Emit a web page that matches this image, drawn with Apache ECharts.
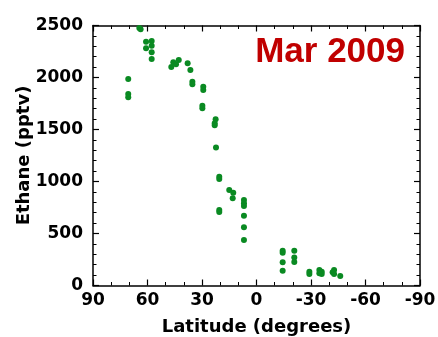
<!DOCTYPE html>
<html>
<head>
<meta charset="utf-8">
<script src="https://cdn.jsdelivr.net/npm/echarts@6/dist/echarts.min.js"></script>
<style>
  html, body { margin: 0; padding: 0; background: #fff; }
  #chart { width: 438px; height: 337px; }
</style>
</head>
<body>
<div id="chart"></div>
<script>
// latitude (deg) and ethane (pptv)
var latitude = [
  64.5, 63.8, 60.8, 57.7, 57.7, 60.8, 57.7, 57.7, 70.6, 70.6, 70.6,
  46.9, 45.8, 44.3, 42.8, 37.9, 36.4, 35.3, 35.3, 29.3, 29.3, 29.8, 29.8,
  22.5, 23.0, 23.0, 22.3, 20.5, 20.5, 15.0, 12.8, 13.1, 20.5, 20.5,
  6.9, 6.9, 6.9, 6.9, 6.9, 6.9,
  -14.4, -14.4, -14.4, -14.4, -20.8, -20.8, -20.8,
  -29.1, -29.1, -34.6, -35.9, -35.9, -34.6, -42.7, -41.9, -42.7, -46.1
];
var ethane = [
  2475, 2465, 2344, 2351, 2306, 2281, 2242, 2178, 1986, 1841, 1810,
  2101, 2146, 2127, 2168, 2136, 2072, 1960, 1935, 1912, 1880, 1729, 1704,
  1598, 1560, 1540, 1327, 1046, 1024, 918, 892, 838, 726, 707,
  822, 790, 764, 671, 560, 437,
  335, 315, 223, 142, 335, 269, 226,
  133, 111, 149, 133, 111, 117, 149, 127, 111, 91
];
var title = 'Mar 2009';

var points = latitude.map(function (lat, i) { return [lat, ethane[i]]; });

var myChart = echarts.init(document.getElementById('chart'));

var labelFont = {
  color: '#000',
  fontFamily: 'DejaVu Sans',
  fontWeight: 'bold',
  fontSize: 17,
  formatter: function (v) { return String(v); }
};

function frameAxis(extra) {
  return Object.assign({
    type: 'value',
    axisLine: { show: true, onZero: false, lineStyle: { color: '#000', width: 1.5 } },
    axisTick: { show: true, inside: true, length: 6, lineStyle: { color: '#000', width: 1.2 } },
    splitLine: { show: false },
    minorSplitLine: { show: false }
  }, extra);
}

myChart.setOption({
  backgroundColor: '#fff',
  animation: false,
  title: {
    text: title,
    right: 28,
    top: 30,
    textStyle: {
      color: '#c00000',
      fontFamily: 'Liberation Sans',
      fontWeight: 'bold',
      fontSize: 35
    }
  },
  grid: { left: 93, right: 18, top: 25.5, bottom: 51.5, containLabel: false, outerBoundsMode: 'none' },
  xAxis: [
    frameAxis({
      min: -90, max: 90, interval: 30, inverse: true,
      minorTick: { show: true, splitNumber: 3, length: 3.5, lineStyle: { color: '#000', width: 1 } },
      name: 'Latitude (degrees)',
      nameLocation: 'middle',
      nameGap: 33,
      nameMoveOverlap: false,
      nameTextStyle: { color: '#000', fontFamily: 'DejaVu Sans', fontWeight: 'bold', fontSize: 18 },
      axisLabel: Object.assign({ margin: 7 }, labelFont)
    }),
    frameAxis({
      position: 'top',
      min: -90, max: 90, interval: 30, inverse: true,
      minorTick: { show: true, splitNumber: 3, length: 3.5, lineStyle: { color: '#000', width: 1 } },
      axisLabel: { show: false }
    })
  ],
  yAxis: [
    frameAxis({
      min: 0, max: 2500, interval: 500,
      minorTick: { show: true, splitNumber: 5, length: 3.5, lineStyle: { color: '#000', width: 1 } },
      name: 'Ethane (pptv)',
      nameLocation: 'middle',
      nameGap: 60,
      nameMoveOverlap: false,
      nameTextStyle: { color: '#000', fontFamily: 'DejaVu Sans', fontWeight: 'bold', fontSize: 18 },
      axisLabel: Object.assign({ margin: 10 }, labelFont)
    }),
    frameAxis({
      position: 'right',
      min: 0, max: 2500, interval: 500,
      minorTick: { show: true, splitNumber: 5, length: 3.5, lineStyle: { color: '#000', width: 1 } },
      axisLabel: { show: false }
    })
  ],
  series: [{
    type: 'scatter',
    xAxisIndex: 0,
    yAxisIndex: 0,
    data: points,
    symbolSize: 6,
    itemStyle: { color: '#0a8a22', opacity: 1 }
  }]
});
</script>
</body>
</html>
